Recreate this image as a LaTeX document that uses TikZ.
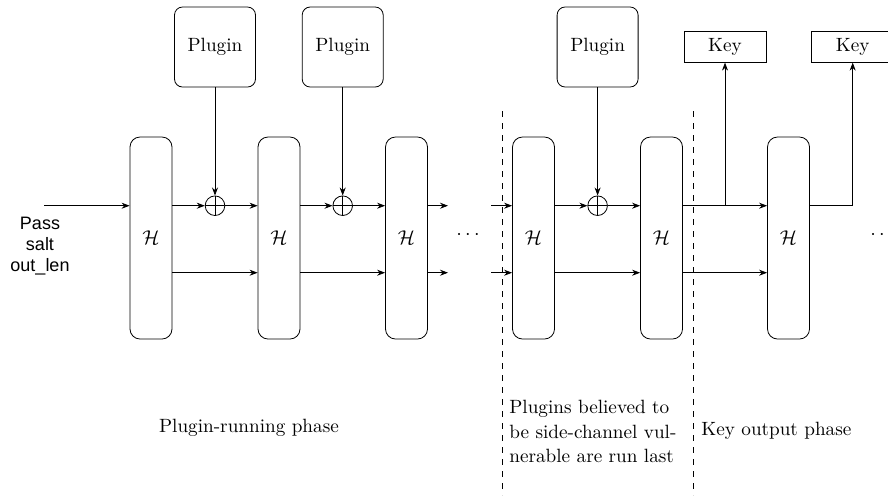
\documentclass[tikz,border=0pt]{standalone}
\usepackage{fontspec}
\newfontfamily\labelsans{Liberation Sans}
\usetikzlibrary{arrows.meta,calc}

\begin{document}
\begin{tikzpicture}[x=0.5pt,y=-0.5pt,
  font=\rmfamily\fontsize{9.6}{12.4}\selectfont,
  hbox/.style={draw,rounded corners=5pt,minimum width=21pt,minimum height=101pt,inner sep=0pt},
  plugbox/.style={draw,rounded corners=4pt,minimum width=40.5pt,minimum height=40pt,inner sep=0pt},
  keybox/.style={draw,minimum width=41pt,minimum height=15.5pt,inner sep=0pt},
  xorop/.style={draw,circle,minimum size=9.8pt,inner sep=0pt,
    path picture={\draw (path picture bounding box.north) -- (path picture bounding box.south)
                        (path picture bounding box.west) -- (path picture bounding box.east);}},
  arr/.style={-{Stealth[length=4pt,width=3pt]}},
  phaseline/.style={dashed},
  phasetext/.style={inner sep=0pt,align=left,anchor=west},
]
\useasboundingbox (0,0) rectangle (888,495);

% rows of the two chaining values
\coordinate (ru) at (0,205.7);
\coordinate (rl) at (0,272.7);

% hash blocks
\node[hbox] (h1) at (151,238) {$\mathcal{H}$};
\node[hbox] (h2) at (279,238) {$\mathcal{H}$};
\node[hbox] (h3) at (406.5,238) {$\mathcal{H}$};
\node[hbox] (h4) at (533.5,238) {$\mathcal{H}$};
\node[hbox] (h5) at (661.5,238) {$\mathcal{H}$};
\node[hbox] (h6) at (788.5,238) {$\mathcal{H}$};

% plugins and their xor points
\node[plugbox] (p1) at (215,47) {Plugin};
\node[plugbox] (p2) at (342.7,47) {Plugin};
\node[plugbox] (p3) at (597.6,47) {Plugin};
\node[xorop] (o1) at (215,205.7) {};
\node[xorop] (o2) at (342.7,205.7) {};
\node[xorop] (o3) at (597.6,205.7) {};

% key outputs
\node[keybox] (k1) at (725,46.7) {Key};
\node[keybox] (k2) at (852.7,46.7) {Key};

% input
\node[font=\labelsans\fontsize{9}{10.5}\selectfont,align=center,inner sep=0pt] (inp) at (40,246) {Pass\\salt\\out\_len};
\coordinate (src) at (44,205.7);
\draw[arr] (src) -- (h1.west |- ru);

% stage 1 -> 2
\draw[arr] (h1.east |- ru) -- (o1);
\draw[arr] (o1) -- (h2.west |- ru);
\draw[arr] (h1.east |- rl) -- (h2.west |- rl);
\draw[arr] (p1) -- (o1);

% stage 2 -> 3
\draw[arr] (h2.east |- ru) -- (o2);
\draw[arr] (o2) -- (h3.west |- ru);
\draw[arr] (h2.east |- rl) -- (h3.west |- rl);
\draw[arr] (p2) -- (o2);

% elided stages
\coordinate (s3u) at (448,205.7);
\coordinate (s3l) at (448,272.7);
\coordinate (t4u) at (491,205.7);
\coordinate (t4l) at (491,272.7);
\draw[arr] (h3.east |- ru) -- (s3u);
\draw[arr] (h3.east |- rl) -- (s3l);
\node (dots1) at (468,235) {$\cdots$};
\draw[arr] (t4u) -- (h4.west |- ru);
\draw[arr] (t4l) -- (h4.west |- rl);

% stage 4 -> 5
\draw[arr] (h4.east |- ru) -- (o3);
\draw[arr] (o3) -- (h5.west |- ru);
\draw[arr] (h4.east |- rl) -- (h5.west |- rl);
\draw[arr] (p3) -- (o3);

% stage 5 -> 6 with key taps
\coordinate (j1) at (725,205.7);
\draw[arr] (h5.east |- ru) -- (h6.west |- ru);
\draw[arr] (h5.east |- rl) -- (h6.west |- rl);
\draw[arr] (j1) -- (k1.south);
\draw[arr] (h6.east |- ru) -| (k2.south);
\node (dots2) at (882,235) {$\cdots$};

% phase separators
\coordinate (d1t) at (502,111);
\coordinate (d1b) at (502,495);
\coordinate (d2t) at (693,111);
\coordinate (d2b) at (693,495);
\draw[phaseline] (d1t) -- (d1b);
\draw[phaseline] (d2t) -- (d2b);

% phase labels
\node[inner sep=0pt] (ph1) at (249,428) {Plugin-running phase};
\node[phasetext] (ph2) at (509,431.5) {Plugins believed to\\be side-channel vul-\\nerable are run last};
\node[phasetext] (ph3) at (701,431) {Key output phase};
\end{tikzpicture}
\end{document}
